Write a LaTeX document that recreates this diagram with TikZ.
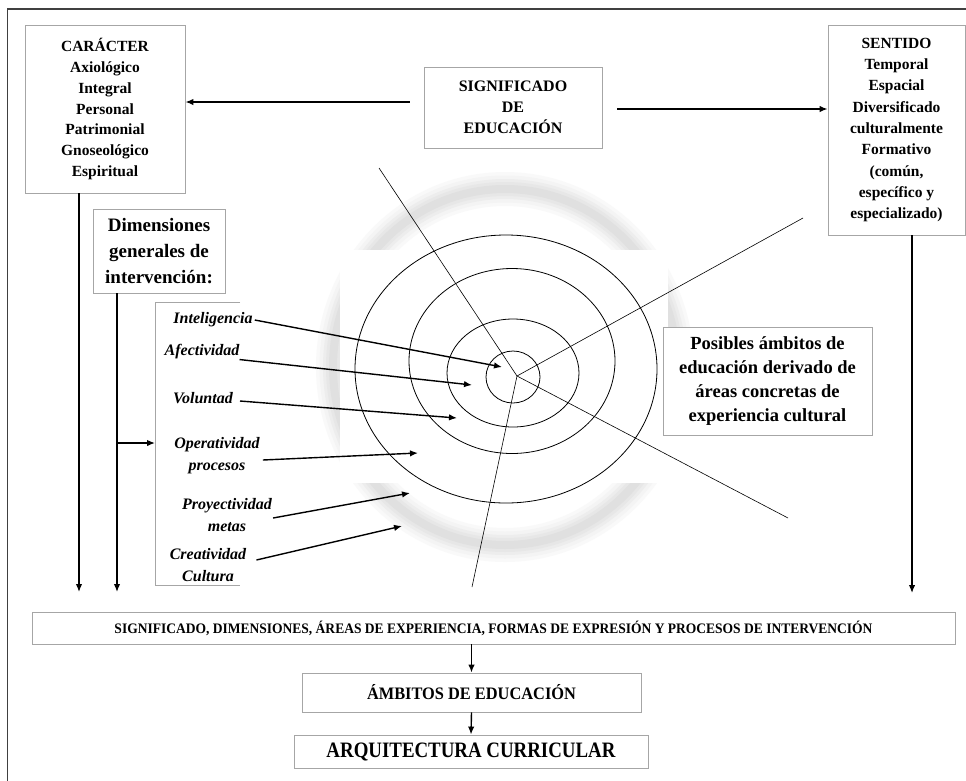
\documentclass[tikz,border=0pt]{standalone}
\usepackage{fontspec}
\setmainfont{Liberation Serif}
\usepackage{graphicx}
\usetikzlibrary{arrows.meta,calc}
\begin{document}
\begin{tikzpicture}[x=1pt,y=-1pt,
  box/.style={draw=gray!70,line width=0.9pt,fill=white,inner sep=0pt,align=center},
  item/.style={inner sep=0pt,align=center,font=\bfseries\itshape\fontsize{16}{22}\selectfont},
  arr/.style={line width=1.4pt,-{Latex[length=8pt,width=6.5pt]}},
  ring/.style={line width=0.8pt},
  ray/.style={line width=0.6pt}]
\useasboundingbox (0,0) rectangle (966,780);
\fill[white] (0,0) rectangle (966,780);
% outer frame
\draw[line width=1.1pt,black!75] (7.5,790) -- (7.5,9) -- (975,9);
% blurred background ring
\foreach \w/\c in {34/5,27/9,20/14,14/19,8/24}{
  \draw[line width=\w pt,color=gray!\c] (505,367) ellipse [x radius=172pt, y radius=178pt];
}
\fill[white] (340,250) rectangle (668,483);
\fill[white] (668,343) rectangle (900,600);
% concentric ellipses
\draw[ring] (513,377) ellipse [x radius=27pt, y radius=26pt];
\draw[ring] (513,373) ellipse [x radius=66pt, y radius=54pt];
\draw[ring] (512,361) ellipse [x radius=103pt, y radius=92.5pt];
\draw[ring] (506,369) ellipse [x radius=151pt, y radius=134pt];
% rays
\coordinate (ctr) at (517,376);
\coordinate (r1) at (379,168);
\coordinate (r2) at (803,218);
\coordinate (r3) at (788,518);
\coordinate (r4) at (472,587);
\foreach \r in {r1,r2,r3,r4}{\draw[ray] (ctr) -- (\r);}
% boxes
\node[box,minimum width=160pt,minimum height=168pt,font=\bfseries\fontsize{15.5}{20.8}\selectfont] (car) at (105,109)
  {CARÁCTER\\Axiológico\\Integral\\Personal\\Patrimonial\\Gnoseológico\\Espiritual};
\node[box,minimum width=178pt,minimum height=81pt,font=\bfseries\fontsize{16}{21}\selectfont] (sig) at (513,107.5)
  {SIGNIFICADO\\DE\\EDUCACIÓN};
\node[box,minimum width=137pt,minimum height=210pt,font=\bfseries\fontsize{15.5}{21.3}\selectfont] (sen) at (896.5,130)
  {SENTIDO\\Temporal\\Espacial\\Diversificado\\culturalmente\\Formativo\\(común,\\específico y\\especializado)};
\node[box,minimum width=132pt,minimum height=84pt,font=\bfseries\fontsize{19}{26}\selectfont] (dim) at (159,251)
  {Dimensiones\\generales de\\intervención:};
\node[box,minimum width=209pt,minimum height=108pt,font=\bfseries\fontsize{18.5}{24}\selectfont] (pos) at (767.5,381)
  {Posibles ámbitos de\\educación derivado de\\áreas concretas de\\experiencia cultural};
\node[box,minimum width=923pt,minimum height=32pt] (long) at (493.5,628)
  {\resizebox{758pt}{\height}{\bfseries\fontsize{14.5}{15}\selectfont SIGNIFICADO, DIMENSIONES, ÁREAS DE EXPERIENCIA, FORMAS DE EXPRESIÓN Y PROCESOS DE INTERVENCIÓN}};
\node[box,minimum width=339pt,minimum height=39pt] (amb) at (471.5,692.5)
  {\resizebox{209pt}{\height}{\bfseries\fontsize{17.5}{18}\selectfont ÁMBITOS DE EDUCACIÓN}};
\node[box,minimum width=354pt,minimum height=33pt] (arq) at (471,751.5)
  {\resizebox{289pt}{\height}{\bfseries\fontsize{22}{22}\selectfont ARQUITECTURA CURRICULAR}};
% bracket
\draw[gray!70,line width=0.9pt] (240,302) -- (155,302) -- (155,585) -- (240,585);
\coordinate (bk) at (155,443);
% items
\node[item] (intel) at (213,320) {Inteligencia};
\node[item] (afect) at (202,352) {Afectividad};
\node[item] (volun) at (203,398) {Voluntad};
\node[item] (oper) at (217,456) {Operatividad\\procesos};
\node[item] (proy) at (227,515) {Proyectividad\\metas};
\node[item] (creat) at (208,565) {Creatividad\\Cultura};
\coordinate (t1) at (502,367);
\coordinate (t2) at (472,385);
\coordinate (t3) at (457,418);
\coordinate (t4) at (418,453);
\coordinate (t5) at (410,493);
\coordinate (t6) at (402,526);
\draw[arr] ([xshift=2pt]intel.east) -- (t1);
\draw[arr] (afect.south east) -- (t2);
\draw[arr] ([xshift=7pt,yshift=-3pt]volun.east) -- (t3);
\draw[arr] ([xshift=3pt,yshift=-4pt]oper.east) -- (t4);
\draw[arr] ([xshift=1pt,yshift=-3pt]proy.east) -- (t5);
\draw[arr] ([xshift=10pt,yshift=5pt]creat.east) -- (t6);
% main connectors
\coordinate (a1) at ([xshift=-14pt,yshift=5.5pt]sig.west);
\draw[arr] (a1) -- (a1 -| car.east);
\coordinate (a2) at ([xshift=15pt,yshift=-1.5pt]sig.east);
\draw[arr] (a2) -- (a2 -| sen.west);
\coordinate (e1) at (79,592);
\draw[arr] (e1 |- car.south) -- (e1);
\coordinate (e2) at (117,592);
\draw[arr] (e2 |- dim.south) -- (e2);
\draw[arr] (e2 |- bk) -- (bk);
\coordinate (e3) at (912,593);
\draw[arr] (e3 |- sen.south) -- (e3);
\draw[arr] (amb.north |- long.south) -- (amb.north);
\draw[arr] (amb.south) -- (arq.north);
\end{tikzpicture}
\end{document}
